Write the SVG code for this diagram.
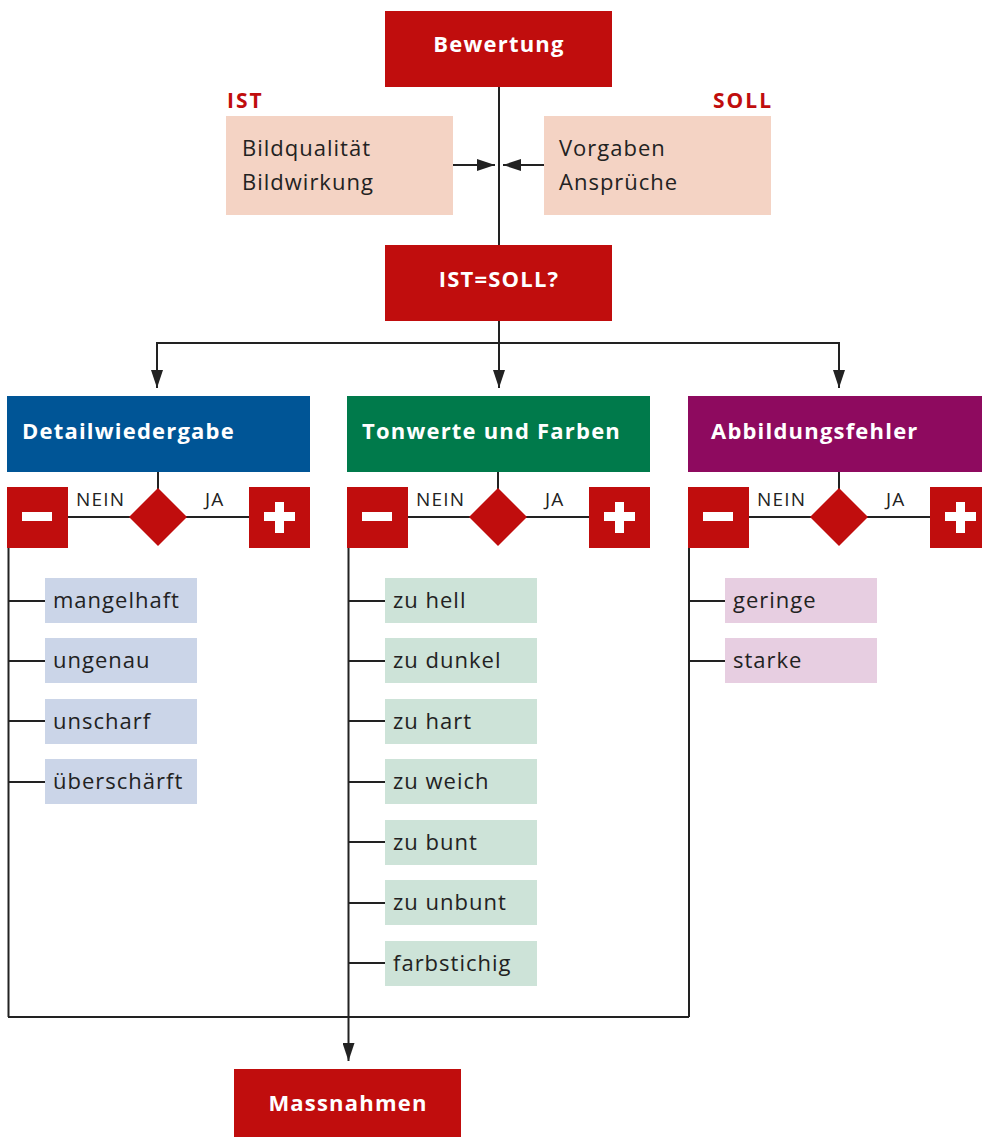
<svg xmlns="http://www.w3.org/2000/svg" width="982" height="1137" viewBox="0 0 982 1137">
  <defs>
    <marker id="arr" viewBox="0 0 18 12" refX="18" refY="6" markerWidth="18" markerHeight="12" markerUnits="userSpaceOnUse" orient="auto">
      <path d="M0,0 L18,6 L0,12 z" fill="#222"/>
    </marker>
    <style>
      .red { fill: #C00D0D; }
      .ln { stroke: #222; stroke-width: 2; fill: none; }
      .hd { font-family: "Open Sans", "Noto Sans", sans-serif; font-weight: 700; font-size: 22px; letter-spacing: 1.2px; fill: #fff; }
      .tx { font-family: "Open Sans", "Noto Sans", sans-serif; font-size: 22px; letter-spacing: 1px; fill: #222; }
      .sm { font-family: "Open Sans", "Noto Sans", sans-serif; font-size: 19px; letter-spacing: 1.2px; fill: #222; }
      .lab { font-family: "Open Sans", "Noto Sans", sans-serif; font-weight: 700; font-size: 21px; letter-spacing: 2px; fill: #C00D0D; }
      .peach { fill: #F4D3C4; }
      .lb { fill: #CBD5E8; }
      .lg { fill: #CDE3D8; }
      .lp { fill: #E7CEE1; }
      .w { fill: #fff; }
    </style>
  </defs>

  <!-- connectors -->
  <g id="connectors">
    <line class="ln" x1="499" y1="87" x2="499" y2="245"/>
    <line class="ln" x1="453" y1="165" x2="495" y2="165" marker-end="url(#arr)"/>
    <line class="ln" x1="544" y1="165" x2="503" y2="165" marker-end="url(#arr)"/>
    <line class="ln" x1="499" y1="321" x2="499" y2="388" marker-end="url(#arr)"/>
    <polyline class="ln" points="157,370 157,343 839,343 839,370"/>
    <line class="ln" x1="157" y1="360" x2="157" y2="388" marker-end="url(#arr)"/>
    <line class="ln" x1="839" y1="360" x2="839" y2="388" marker-end="url(#arr)"/>
    <!-- decision stubs and branches -->
    <line class="ln" x1="158" y1="471" x2="158" y2="490"/>
    <line class="ln" x1="68" y1="517" x2="249" y2="517"/>
    <line class="ln" x1="498" y1="471" x2="498" y2="490"/>
    <line class="ln" x1="408" y1="517" x2="589" y2="517"/>
    <line class="ln" x1="839" y1="471" x2="839" y2="490"/>
    <line class="ln" x1="749" y1="517" x2="930" y2="517"/>
    <!-- left column -->
    <line class="ln" x1="8.5" y1="548" x2="8.5" y2="1017"/>
    <line class="ln" x1="8" y1="601" x2="45" y2="601"/>
    <line class="ln" x1="8" y1="661" x2="45" y2="661"/>
    <line class="ln" x1="8" y1="721" x2="45" y2="721"/>
    <line class="ln" x1="8" y1="782" x2="45" y2="782"/>
    <!-- middle column -->
    <line class="ln" x1="348.5" y1="548" x2="348.5" y2="1017"/>
    <line class="ln" x1="348" y1="601" x2="385" y2="601"/>
    <line class="ln" x1="348" y1="661" x2="385" y2="661"/>
    <line class="ln" x1="348" y1="721" x2="385" y2="721"/>
    <line class="ln" x1="348" y1="782" x2="385" y2="782"/>
    <line class="ln" x1="348" y1="842" x2="385" y2="842"/>
    <line class="ln" x1="348" y1="903" x2="385" y2="903"/>
    <line class="ln" x1="348" y1="963" x2="385" y2="963"/>
    <!-- right column -->
    <line class="ln" x1="689" y1="548" x2="689" y2="1017"/>
    <line class="ln" x1="689" y1="601" x2="725" y2="601"/>
    <line class="ln" x1="689" y1="661" x2="725" y2="661"/>
    <!-- merge -->
    <polyline class="ln" points="8,1017 689,1017"/>
    <line class="ln" x1="348.5" y1="1017" x2="348.5" y2="1061" marker-end="url(#arr)"/>
  </g>

  <g id="bewertung">
    <rect class="red" x="385" y="11" width="227" height="76"/>
    <text class="hd" x="499" y="52" text-anchor="middle">Bewertung</text>
  </g>

  <g id="ist">
    <text class="lab" x="227" y="108">IST</text>
    <rect class="peach" x="226" y="116" width="227" height="99"/>
    <text class="tx" x="242" y="156">Bildqualität</text>
    <text class="tx" x="242" y="190">Bildwirkung</text>
  </g>

  <g id="soll">
    <text class="lab" x="773" y="108" text-anchor="end">SOLL</text>
    <rect class="peach" x="544" y="116" width="227" height="99"/>
    <text class="tx" x="559" y="156">Vorgaben</text>
    <text class="tx" x="559" y="190">Ansprüche</text>
  </g>

  <g id="vergleich">
    <rect class="red" x="385" y="245" width="227" height="76"/>
    <text class="hd" x="499" y="287" text-anchor="middle" letter-spacing="2.5">IST=SOLL?</text>
  </g>

  <g id="detailwiedergabe">
    <rect x="7" y="396" width="303" height="76" fill="#005596"/>
    <text class="hd" x="22" y="439">Detailwiedergabe</text>
    <rect class="red" x="7" y="487" width="61" height="61"/>
    <rect class="w" x="22" y="512" width="30" height="9"/>
    <polygon class="red" points="158,488 187,517 158,546 129,517"/>
    <text class="sm" x="76" y="506">NEIN</text>
    <text class="sm" x="205" y="506">JA</text>
    <rect class="red" x="249" y="487" width="61" height="61"/>
    <rect class="w" x="264" y="512" width="31" height="9"/>
    <rect class="w" x="275" y="502" width="9" height="31"/>
    <rect class="lb" x="45" y="578" width="152" height="45"/>
    <text class="tx" x="53" y="608">mangelhaft</text>
    <rect class="lb" x="45" y="638" width="152" height="45"/>
    <text class="tx" x="53" y="668">ungenau</text>
    <rect class="lb" x="45" y="699" width="152" height="45"/>
    <text class="tx" x="53" y="729">unscharf</text>
    <rect class="lb" x="45" y="759" width="152" height="45"/>
    <text class="tx" x="53" y="789">überschärft</text>
  </g>

  <g id="tonwerte">
    <rect x="347" y="396" width="303" height="76" fill="#007A4B"/>
    <text class="hd" x="362" y="439">Tonwerte und Farben</text>
    <rect class="red" x="347" y="487" width="61" height="61"/>
    <rect class="w" x="362" y="512" width="30" height="9"/>
    <polygon class="red" points="498,488 527,517 498,546 469,517"/>
    <text class="sm" x="416" y="506">NEIN</text>
    <text class="sm" x="545" y="506">JA</text>
    <rect class="red" x="589" y="487" width="61" height="61"/>
    <rect class="w" x="604" y="512" width="31" height="9"/>
    <rect class="w" x="615" y="502" width="9" height="31"/>
    <rect class="lg" x="385" y="578" width="152" height="45"/>
    <text class="tx" x="393" y="608">zu hell</text>
    <rect class="lg" x="385" y="638" width="152" height="45"/>
    <text class="tx" x="393" y="668">zu dunkel</text>
    <rect class="lg" x="385" y="699" width="152" height="45"/>
    <text class="tx" x="393" y="729">zu hart</text>
    <rect class="lg" x="385" y="759" width="152" height="45"/>
    <text class="tx" x="393" y="789">zu weich</text>
    <rect class="lg" x="385" y="820" width="152" height="45"/>
    <text class="tx" x="393" y="850">zu bunt</text>
    <rect class="lg" x="385" y="880" width="152" height="45"/>
    <text class="tx" x="393" y="910">zu unbunt</text>
    <rect class="lg" x="385" y="941" width="152" height="45"/>
    <text class="tx" x="393" y="971">farbstichig</text>
  </g>

  <g id="abbildungsfehler">
    <rect x="688" y="396" width="294" height="76" fill="#8E0A5F"/>
    <text class="hd" x="711" y="439">Abbildungsfehler</text>
    <rect class="red" x="688" y="487" width="61" height="61"/>
    <rect class="w" x="703" y="512" width="30" height="9"/>
    <polygon class="red" points="839,488 868,517 839,546 810,517"/>
    <text class="sm" x="757" y="506">NEIN</text>
    <text class="sm" x="886" y="506">JA</text>
    <rect class="red" x="930" y="487" width="52" height="61"/>
    <rect class="w" x="945" y="512" width="31" height="9"/>
    <rect class="w" x="956" y="502" width="9" height="31"/>
    <rect class="lp" x="725" y="578" width="152" height="45"/>
    <text class="tx" x="733" y="608">geringe</text>
    <rect class="lp" x="725" y="638" width="152" height="45"/>
    <text class="tx" x="733" y="668">starke</text>
  </g>

  <g id="massnahmen">
    <rect class="red" x="234" y="1069" width="227" height="68"/>
    <text class="hd" x="348" y="1111" text-anchor="middle">Massnahmen</text>
  </g>
</svg>
